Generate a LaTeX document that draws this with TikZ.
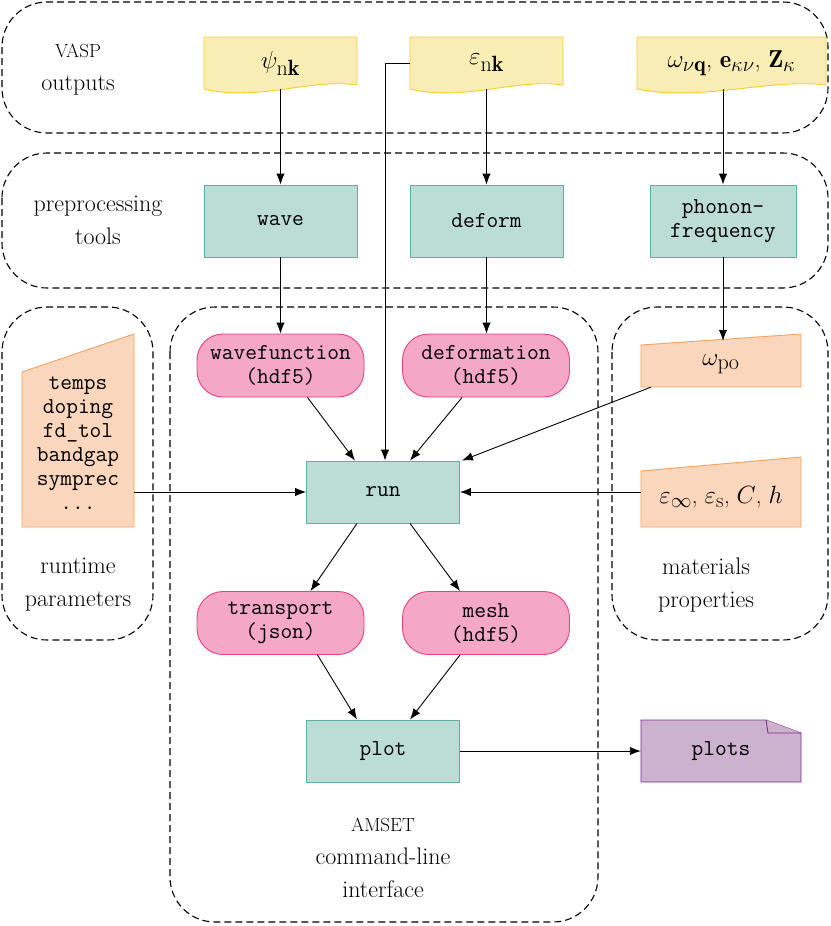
\documentclass[tikz,border=0pt]{standalone}
\usepackage{fontspec}
\usetikzlibrary{arrows.meta}
\renewcommand\defaultscriptratio{.9}
\renewcommand\defaultscriptscriptratio{.72}
\definecolor{yf}{HTML}{F9EDB6}
\definecolor{yb}{HTML}{F4CE2B}
\definecolor{tf}{HTML}{BCDCD6}
\definecolor{tb}{HTML}{5FB0A4}
\definecolor{pf}{HTML}{F4A7C7}
\definecolor{pb}{HTML}{E6407E}
\definecolor{of}{HTML}{FAD6BC}
\definecolor{ob}{HTML}{F4A15D}
\definecolor{uf}{HTML}{CDB2CF}
\definecolor{ub}{HTML}{7A2F8A}
\newcommand\tfont{\ttfamily\fontsize{22.8}{24}\selectfont}
\newcommand\capfont{\fontsize{19}{20}\selectfont}
\tikzset{
  grp/.style={draw, line width=1.1pt, dash pattern=on 7pt off 4pt, rounded corners=45pt},
  teal/.style={draw=tb, fill=tf, line width=0.9pt, minimum width=153pt, minimum height=72pt, align=center, font=\tfont, inner sep=0pt},
  pinkbox/.style={draw=pb, fill=pf, line width=0.9pt, rounded corners=26pt, minimum width=167pt, minimum height=63pt, align=center, font=\tfont, inner sep=0pt},
  txt/.style={align=center, inner sep=0pt, font=\fontsize{24.5}{30}\selectfont},
  ttxt/.style={align=center, inner sep=0pt, font=\tfont},
  yshape/.style={draw=yb, fill=yf, line width=0.9pt},
  oshape/.style={draw=ob, fill=of, line width=0.9pt},
  ushape/.style={draw=ub, fill=uf, line width=0.9pt},
  lbl/.style={align=center, inner sep=0pt, font=\fontsize{24}{33}\selectfont},
  arr/.style={-{Latex[length=11pt,width=8.5pt]}, line width=0.9pt},
}
\begin{document}
\begin{tikzpicture}[x=1pt,y=-1pt]
\useasboundingbox (0,0) rectangle (830,926);
% groups
\draw[grp] (2,2) rectangle (828,133);
\draw[grp] (2,153) rectangle (828,288);
\draw[grp] (2,307) rectangle (153,640);
\draw[grp] (170,307) rectangle (598,922);
\draw[grp] (612,307) rectangle (828,640);
% group labels
\node[lbl] (l1) at (78,70) {{\capfont VASP}\\outputs};
\node[lbl] (l2) at (98,220) {preprocessing\\tools};
\node[lbl] (l3) at (78,585) {runtime\\parameters};
\node[lbl] (l4) at (706,585) {materials\\properties};
\node[lbl] (l5) at (383,858) {{\capfont AMSET}\\command-line\\interface};
% VASP documents
\draw[yshape] (204,37) -- (357,37) -- (357,85) .. controls (311,78) and (258,102) .. (204,89) -- cycle;
\draw[yshape] (410,37) -- (563,37) -- (563,85) .. controls (517,78) and (464,102) .. (410,89) -- cycle;
\draw[yshape] (637,37) -- (826,37) -- (826,85) .. controls (769,78) and (703,102) .. (637,89) -- cycle;
\node[txt, minimum width=153pt, minimum height=52pt] (psi) at (280.5,63) {$\psi_{\mathrm{n}\mathbf{k}}$};
\node[txt, minimum width=153pt, minimum height=52pt] (enk) at (486.5,63) {$\varepsilon_{\mathrm{n}\mathbf{k}}$};
\node[txt, minimum width=189pt, minimum height=52pt] (omg) at (731.5,63) {$\omega_{\nu\mathbf{q}}$, $\mathbf{e}_{\kappa\nu}$, $\mathbf{Z}_{\kappa}$};
% preprocessing
\node[teal] (wave) at (280.5,221) {wave};
\node[teal] (deform) at (486.5,221) {deform};
\node[teal, minimum width=146pt] (phon) at (723,221) {phonon-\\frequency};
% hdf5 files
\node[pinkbox] (wf) at (280.5,365.5) {wavefunction\\(hdf5)};
\node[pinkbox] (df) at (486,365.5) {deformation\\(hdf5)};
\node[pinkbox] (tr) at (280.5,623) {transport\\(json)};
\node[pinkbox] (mesh) at (486,623) {mesh\\(hdf5)};
% run / plot
\node[teal, minimum height=62pt] (run) at (383,492) {run};
\node[teal, minimum height=62pt] (plot) at (383,751) {plot};
% runtime params
\draw[oshape] (22,372) -- (134,334) -- (134,527) -- (22,527) -- cycle;
\node[ttxt, minimum width=112pt] (params) at (78,443) {temps\\doping\\fd\_tol\\bandgap\\symprec\\...};
% materials
\draw[oshape] (641,345) -- (801,334) -- (801,387) -- (641,387) -- cycle;
\node[txt, minimum width=160pt, minimum height=46pt] (wpo) at (721,364) {$\omega_{\mathrm{po}}$};
\draw[oshape] (641,471) -- (801,457) -- (801,527) -- (641,527) -- cycle;
\node[txt, font=\fontsize{23}{28}\selectfont, minimum width=160pt, minimum height=60pt] (epsb) at (721,497) {$\varepsilon_{\infty}$, $\varepsilon_{\mathrm{s}}$, $C$, $h$};
% plots note
\draw[ushape] (641,720) -- (766,720) -- (801,733) -- (801,782) -- (641,782) -- cycle;
\draw[ushape] (766,720) -- (768,733) -- (801,733);
\node[ttxt, minimum width=160pt, minimum height=62pt] (plots) at (721,751) {plots};
% arrows
\draw[arr] (psi.south) -- (wave.north);
\draw[arr] (enk.south) -- (deform.north);
\draw[arr] (phon.north |- omg.south) -- (phon.north);
\draw[arr] (enk.west) -| ([xshift=2pt]run.north);
\draw[arr] (wave.south) -- (wf.north);
\draw[arr] (deform.south) -- (df.north -| deform.south);
\draw[arr] (phon.south) -- (phon.south |- wpo.north);
\draw[arr] ([xshift=27pt]wf.south) -- ([xshift=-28pt]run.north);
\draw[arr] ([xshift=-24pt]df.south) -- ([xshift=27pt]run.north);
\draw[arr] ([xshift=10pt]wpo.south west) -- ([xshift=2pt]run.north east);
\draw[arr] (params.east |- run.west) -- (run.west);
\draw[arr] (epsb.west |- run.east) -- (run.east);
\draw[arr] ([xshift=-26pt]run.south) -- ([xshift=30pt]tr.north);
\draw[arr] ([xshift=27pt]run.south) -- ([xshift=-26pt]mesh.north);
\draw[arr] ([xshift=37pt]tr.south) -- ([xshift=-26pt]plot.north);
\draw[arr] ([xshift=-26pt]mesh.south) -- ([xshift=27pt]plot.north);
\draw[arr] (plot.east) -- (plots.west);
\end{tikzpicture}
\end{document}
